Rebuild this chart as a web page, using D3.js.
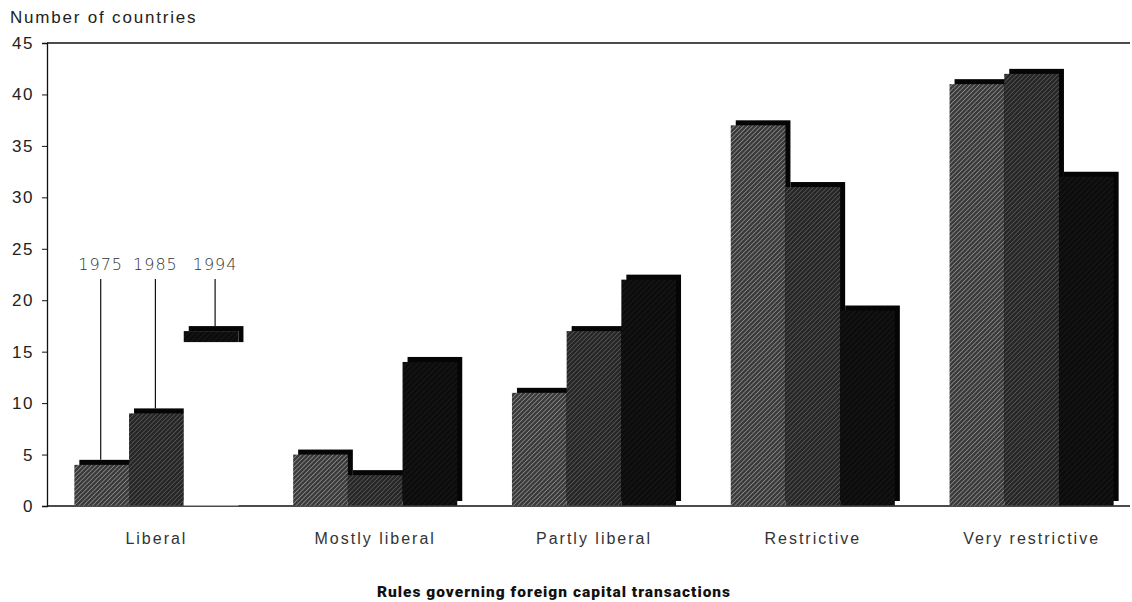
<!DOCTYPE html>
<html><head><meta charset="utf-8">
<script src="https://cdn.jsdelivr.net/npm/d3@7"></script>
<style>body{margin:0;background:#fff}svg{display:block}</style>
</head><body>
<svg id="c" width="1132" height="602"></svg>
<script>
const categories = ["Liberal","Mostly liberal","Partly liberal","Restrictive","Very restrictive"];
const years = ["1975","1985","1994"];
const values1975 = [4,5,11,37,41];
const values1985 = [9,3,17,31,42];
const values1994 = [17,14,22,19,32];
const yTicks = [0,5,10,15,20,25,30,35,40,45];
const yTitle = "Number of countries";
const xTitle = "Rules governing foreign capital transactions";

(function(){
const series = [values1975, values1985, values1994];
const svg = d3.select("#c");
const mLeft = 47, mRight = 1141, mTop = 43, mBottom = 506;

const x0 = d3.scaleBand().domain(categories).range([mLeft, mRight]).paddingInner(0.25).paddingOuter(0.125);
const x1 = d3.scaleBand().domain(years).range([0, x0.bandwidth()]);
const y = d3.scaleLinear().domain([0,45]).range([mBottom, mTop]);

// patterns
const defs = svg.append("defs");
const pats = [
  {id:"p1975", bg:"#3a3a3a", line:"#bdbdbd", w:1.0, s:3.2},
  {id:"p1985", bg:"#262626", line:"#8a8a8a", w:0.8, s:3.2},
  {id:"p1994", bg:"#0c0c0c", line:"#3a3a3a", w:0.5, s:4}
];
pats.forEach(p=>{
  const pt = defs.append("pattern").attr("id",p.id).attr("patternUnits","userSpaceOnUse")
    .attr("width",p.s).attr("height",p.s).attr("patternTransform","rotate(-45)");
  pt.append("rect").attr("width",p.s).attr("height",p.s).attr("fill",p.bg);
  pt.append("line").attr("x1",0).attr("y1",0).attr("x2",p.s).attr("y2",0)
    .attr("stroke",p.line).attr("stroke-width",p.w);
});

// frame top line
svg.append("line").attr("x1",mLeft).attr("x2",1130).attr("y1",mTop).attr("y2",mTop).attr("stroke","#111").attr("stroke-width",1.3);

// y axis
const yAxis = d3.axisLeft(y).tickValues(yTicks).tickSize(5).tickPadding(10);
const ga = svg.append("g").attr("transform",`translate(${mLeft},0)`).call(yAxis);
ga.select(".domain").attr("stroke","#111").attr("stroke-width",1.3);
ga.selectAll(".tick line").attr("stroke","#111");
ga.selectAll(".tick text").attr("font-family","Liberation Sans, Arial, sans-serif").attr("font-size",17)
  .attr("letter-spacing",1.5).attr("fill","#222").attr("x",-13);

svg.append("line").attr("x1",mLeft).attr("x2",1130).attr("y1",mBottom).attr("y2",mBottom).attr("stroke","#111").attr("stroke-width",1.3);

// bars
const shX = 5, shY = 5, capH = 11;
categories.forEach((cat,ci)=>{
  years.forEach((yr,si)=>{
    const v = series[si][ci];
    const bx = x0(cat) + x1(yr), bw = x1.bandwidth(), by = y(v), bh = y(0) - y(v);
    const g = svg.append("g");
    const liberalGap = (ci===0 && si===2);
    g.append("rect").attr("x",bx+shX).attr("y",by-shY).attr("width",bw)
      .attr("height", liberalGap ? capH + shY : bh).attr("fill","#050505");
    g.append("rect").attr("x",bx).attr("y",by).attr("width",bw).attr("height",bh-0.5)
      .attr("fill", liberalGap ? "#ffffff" : `url(#p${yr})`);
    if (liberalGap) {
      g.append("rect").attr("x",bx).attr("y",by).attr("width",bw).attr("height",capH).attr("fill","url(#p1994)");
    }
  });
});

// annotation leaders for the Liberal group
const annY = 265;
years.forEach((yr,si)=>{
  const v = series[si][0];
  const cx = x0(categories[0]) + x1(yr) + x1.bandwidth()/2 + (si===2?4:-1);
  svg.append("line").attr("x1",cx).attr("x2",cx).attr("y1",annY+14).attr("y2",y(v)-shY)
    .attr("stroke","#111").attr("stroke-width",1.2);
  svg.append("text").attr("x",cx).attr("y",annY).attr("text-anchor","middle").attr("dominant-baseline","middle")
    .attr("font-family","DejaVu Sans, sans-serif").attr("font-size",16).attr("font-weight",300)
    .attr("letter-spacing",1).attr("fill","#333").text(yr);
});

// category labels
svg.append("g").selectAll("text").data(categories).join("text")
  .attr("x",d=>x0(d)+x0.bandwidth()/2).attr("y",540).attr("text-anchor","middle").attr("dominant-baseline","middle")
  .attr("font-family","Liberation Sans, Arial, sans-serif").attr("font-size",16).attr("letter-spacing",2)
  .attr("fill","#333").text(d=>d);

// titles
svg.append("text").attr("x",10).attr("y",23).attr("font-family","Liberation Sans, Arial, sans-serif")
  .attr("font-size",17).attr("letter-spacing",1.8).attr("fill","#222").text(yTitle);
svg.append("text").attr("x",554).attr("y",597).attr("text-anchor","middle").attr("font-family","Roboto, Liberation Sans, sans-serif")
  .attr("font-size",15.5).attr("font-weight",900).attr("letter-spacing",1).attr("fill","#111").text(xTitle);
})();
</script>
</body></html>
